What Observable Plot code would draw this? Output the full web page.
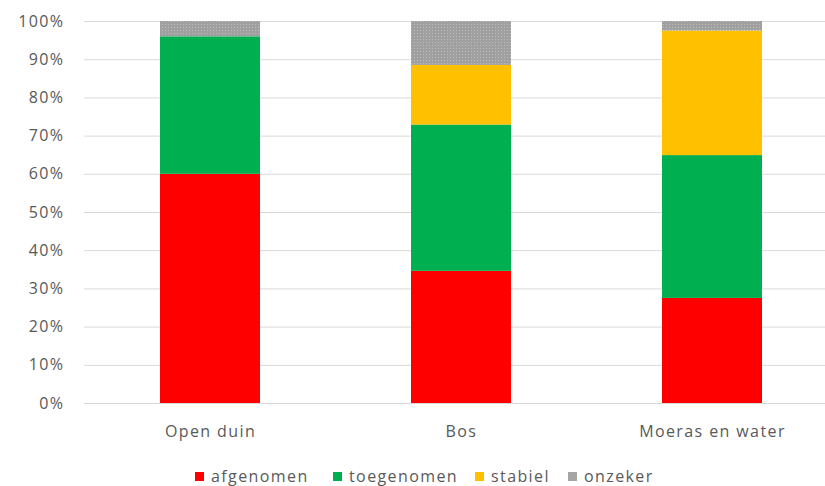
<!DOCTYPE html>
<html>
<head>
<meta charset="utf-8">
<script src="https://cdn.jsdelivr.net/npm/d3@7"></script>
<script src="https://cdn.jsdelivr.net/npm/@observablehq/plot@0.6"></script>
<style>
  html, body { margin: 0; padding: 0; background: #fff; }
  body { width: 825px; height: 486px; overflow: hidden; font-family: "Open Sans", Lato, sans-serif; }
  #legend { position: relative; height: 26px; margin-top: 3px; }
  .item { position: absolute; top: 0; display: flex; align-items: center; font-size: 16px; letter-spacing: 1.4px; color: #595959; line-height: 26px; }
  .sw { width: 9px; height: 9px; margin-right: 7px; }
</style>
</head>
<body>
<div id="chart"></div>
<div id="legend"></div>
<script>
const categories = ["Open duin", "Bos", "Moeras en water"];
const series = ["afgenomen", "toegenomen", "stabiel", "onzeker"];
const afgenomen = [60, 34.6, 27.5];
const toegenomen = [36, 38.3, 37.4];
const stabiel = [0, 15.6, 32.6];
const onzeker = [4, 11.5, 2.5];
const colors = ["#ff0000", "#00b050", "#ffc000", "#a5a5a5"];
const yTicks = [0, 10, 20, 30, 40, 50, 60, 70, 80, 90, 100];

const values = [afgenomen, toegenomen, stabiel, onzeker];
const data = [];
categories.forEach((c, i) => {
  series.forEach((s, j) => data.push({cat: c, series: s, value: values[j][i]}));
});

const plotFills = colors.map((c, i) => i === 3 ? "url(#dots)" : c);

const chart = Plot.plot({
  width: 825,
  height: 460,
  marginLeft: 84,
  marginRight: 0,
  marginTop: 21,
  marginBottom: 57,
  style: {fontFamily: "'Open Sans', Lato, sans-serif", fontSize: "16px", letterSpacing: "1.4px", color: "#595959", background: "#fff"},
  x: {domain: categories, range: [84, 838], paddingInner: 0.6, paddingOuter: 0.3, label: null},
  y: {domain: [0, 100], label: null},
  color: {domain: series, range: plotFills},
  marks: [
    Plot.gridY(yTicks, {stroke: "#d9d9d9", strokeOpacity: 1}),
    Plot.barY(data, {x: "cat", y: "value", fill: "series"}),
    Plot.axisY(yTicks, {tickSize: 0, tickPadding: 20, tickFormat: d => d + "%", label: null}),
    Plot.axisX({tickSize: 0, tickPadding: 22, label: null})
  ]
});
const ns = "http://www.w3.org/2000/svg";
const defs = document.createElementNS(ns, "defs");
const pat = document.createElementNS(ns, "pattern");
pat.setAttribute("id", "dots");
pat.setAttribute("width", "3");
pat.setAttribute("height", "3");
pat.setAttribute("patternUnits", "userSpaceOnUse");
const bg = document.createElementNS(ns, "rect");
bg.setAttribute("width", "3"); bg.setAttribute("height", "3"); bg.setAttribute("fill", "#a0a0a0");
const dot = document.createElementNS(ns, "rect");
dot.setAttribute("width", "1"); dot.setAttribute("height", "1"); dot.setAttribute("fill", "#bdbdbd");
pat.appendChild(bg); pat.appendChild(dot);
defs.appendChild(pat);
chart.insertBefore(defs, chart.firstChild);
document.getElementById("chart").appendChild(chart);

const legendX = [195, 333, 475, 568];
const legend = document.getElementById("legend");
series.forEach((s, i) => {
  const it = document.createElement("div");
  it.className = "item";
  it.style.left = legendX[i] + "px";
  const sw = document.createElement("span");
  sw.className = "sw";
  sw.style.background = colors[i];
  it.appendChild(sw);
  it.appendChild(document.createTextNode(s));
  legend.appendChild(it);
});
</script>
</body>
</html>
